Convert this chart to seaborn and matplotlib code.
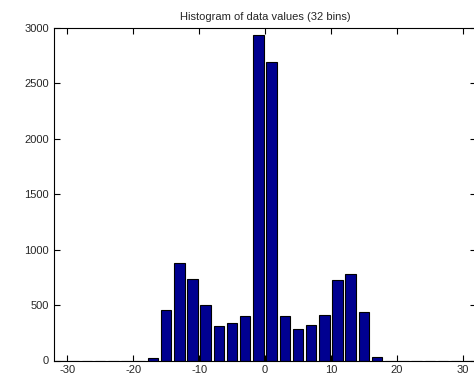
import numpy as np
import pandas as pd
import matplotlib
matplotlib.use("Agg")
import matplotlib.pyplot as plt
import seaborn as sns

# Bin centres (32 bins of width 2) and counts
bin_centers = list(range(-31, 32, 2))
counts = [0, 0, 0, 0, 0, 0, 0,
          22, 455, 876, 737, 500, 310, 336, 404, 2935,
          2695, 402, 288, 318, 413, 728, 779, 440, 28,
          0, 0, 0, 0, 0, 0, 0]
x_ticks = [-30, -20, -10, 0, 10, 20, 30]
y_ticks = [0, 500, 1000, 1500, 2000, 2500, 3000]

sns.set_style("white")
plt.rcParams['font.family'] = ['Liberation Sans', 'DejaVu Sans']
plt.rcParams['axes.unicode_minus'] = False

data = pd.DataFrame({'center': bin_centers, 'count': counts})

fig = plt.figure(figsize=(4.74, 3.79), dpi=100)
ax = fig.add_axes([54 / 474, (379 - 360.5) / 379, (476 - 54) / 474, (360.5 - 28) / 379])

sns.barplot(data=data, x='center', y='count', native_scale=True, width=0.8,
            color='#000090', saturation=1, edgecolor='black', linewidth=0.8, ax=ax)

ax.set_xlim(-32, 32)
ax.set_ylim(0, 3000)
ax.set_xticks(x_ticks)
ax.set_yticks(y_ticks)
ax.set_xlabel("")
ax.set_ylabel("")
ax.set_title("Histogram of data values (32 bins)", fontsize=8, pad=6)
ax.tick_params(direction='in', length=4, width=0.8, labelsize=8, color='black',
               top=True, right=True, bottom=True, left=True)
for s in ax.spines.values():
    s.set_visible(True)
    s.set_color('black')
    s.set_linewidth(0.8)

fig.savefig("out.png", dpi=100)
